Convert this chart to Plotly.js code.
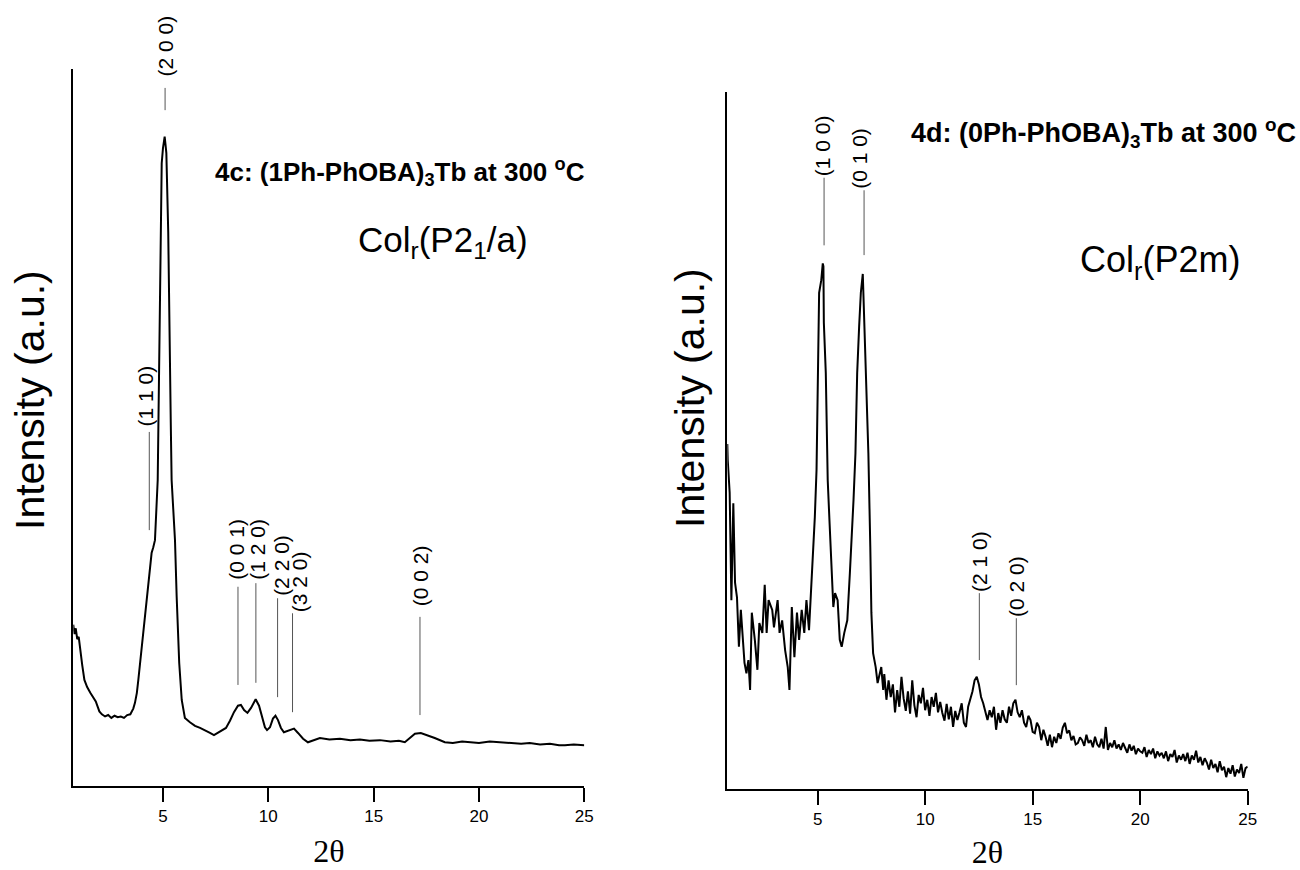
<!DOCTYPE html>
<html>
<head>
<meta charset="utf-8">
<script src="https://cdn.plot.ly/plotly-3.0.1.min.js"></script>
<style>html,body{margin:0;padding:0;background:#fff;}</style>
</head>
<body>
<div id="chart" style="width:1300px;height:870px;"></div>
<script>
// ---------- DATA ----------
// 4c: (1Ph-PhOBA)3Tb at 300 °C
const twoTheta4c = [0.74,0.80,0.86,0.93,1.00,1.08,1.17,1.27,1.40,1.55,1.70,1.81,1.98,2.10,2.25,2.40,2.55,2.70,2.85,3.00,
  3.15,3.30,3.45,3.59,3.67,3.76,3.83,3.91,3.99,4.15,4.38,4.46,4.54,4.62,4.75,4.82,4.86,4.89,4.94,5.00,
  5.08,5.12,5.16,5.25,5.29,5.33,5.37,5.41,5.49,5.57,5.65,5.77,5.89,6.04,6.28,6.52,6.76,6.99,7.23,7.42,
  7.61,7.80,7.99,8.18,8.37,8.56,8.70,8.85,9.01,9.18,9.40,9.56,9.70,9.84,9.94,10.08,10.22,10.34,10.46,10.60,
  10.74,10.98,11.22,11.41,11.65,11.88,12.07,12.45,12.9,13.4,13.9,14.35,14.8,15.3,15.8,16.2,16.48,16.72,16.96,17.24,
  17.57,17.90,18.38,18.76,19.2,19.56,20.0,20.51,21.0,21.46,22.0,22.41,22.9,23.37,23.8,24.08,24.5,25.0];
const intensity4c = [225,212,220,205,208,185,168,148,138,130,124,118,104,100,97,99,95,98,96,97,
  95,99,100,108,116,130,148,170,194,241,297,325,333,343,427,566,650,724,869,890,
  906,895,883,772,650,566,506,427,380,343,264,172,120,95,89,84,81,78,74,71,
  74,77,81,91,103,112,113,106,102,109,121,112,95,82,78,82,94,98,92,81,
  75,77,80,74,66,61,63,67,65,66,64,65,63,64,62,63,61,67,73,74,
  71,67,61,60,62,61,60,62,61,60,59,60,58,59,57,57,58,57];

// 4d: (0Ph-PhOBA)3Tb at 300 °C
const twoTheta4d = [0.80,0.82,0.91,0.99,1.08,1.16,1.25,1.34,1.43,1.51,1.60,1.69,1.78,1.86,1.94,2.08,2.20,2.29,2.43,2.54,
  2.63,2.72,2.89,2.97,3.06,3.14,3.23,3.35,3.49,3.61,3.69,3.80,3.92,4.04,4.14,4.26,4.38,4.48,4.60,4.69,
  4.78,4.87,4.95,5.00,5.07,5.17,5.24,5.27,5.29,5.38,5.47,5.55,5.64,5.73,5.81,5.93,6.03,6.12,6.24,6.38,
  6.50,6.59,6.67,6.76,6.84,6.93,7.01,7.10,7.19,7.27,7.36,7.45,7.50,7.58,7.70,7.79,7.96,8.05,
  8.1,8.2,8.3,8.4,8.5,8.6,8.7,8.8,8.9,9.0,
  9.1,9.2,9.3,9.4,9.5,9.6,9.7,9.8,9.9,10.0,
  10.1,10.2,10.3,10.4,10.5,10.6,10.7,10.8,10.9,11.0,
  11.1,11.2,11.3,11.4,11.5,11.6,11.7,11.8,11.9,12.0,
  12.1,12.2,12.3,12.4,12.5,12.6,12.7,12.8,12.9,13.0,
  13.1,13.2,13.3,13.4,13.5,13.6,13.7,13.8,13.9,14.0,
  14.1,14.2,14.3,14.4,14.5,14.6,14.7,14.8,14.9,15.0,
  15.1,15.2,15.3,15.4,15.5,15.6,15.7,15.8,15.9,16.0,
  16.1,16.2,16.3,16.4,16.5,16.6,16.7,16.8,16.9,17.0,
  17.1,17.2,17.3,17.4,17.5,17.6,17.7,17.8,17.9,18.0,
  18.1,18.2,18.3,18.4,18.5,18.6,18.7,18.8,18.9,19.0,
  19.1,19.2,19.3,19.4,19.5,19.6,19.7,19.8,19.9,20.0,
  20.1,20.2,20.3,20.4,20.5,20.6,20.7,20.8,20.9,21.0,
  21.1,21.2,21.3,21.4,21.5,21.6,21.7,21.8,21.9,22.0,
  22.1,22.2,22.3,22.4,22.5,22.6,22.7,22.8,22.9,23.0,
  23.1,23.2,23.3,23.4,23.5,23.6,23.7,23.8,23.9,24.0,
  24.1,24.2,24.3,24.4,24.5,24.6,24.7,24.8,24.9,25.0];
const intensity4d = [495,472,425,271,410,296,275,204,257,218,181,166,185,142,253,214,171,238,224,293,
  224,271,257,232,257,271,224,242,199,175,142,261,189,253,214,257,224,271,228,281,
  324,390,458,572,712,730,754,750,669,597,443,386,314,261,281,271,214,204,224,242,
  310,357,415,482,597,663,712,739,659,587,482,347,253,195,175,152,175,142,
  165,128,156,132,150,110,142,118,161,130,
  112,140,108,156,120,103,135,123,145,113,
  128,105,132,118,138,110,125,109,98,122,
  100,118,89,112,99,110,123,95,89,118,
  128,140,156,161,150,132,123,110,99,113,
  103,118,85,109,95,113,100,95,118,105,
  123,128,110,103,113,95,89,105,99,82,
  80,95,89,70,85,75,62,78,60,75,
  66,80,72,88,95,80,84,70,76,64,
  66,74,70,62,78,66,70,60,75,64,
  60,72,58,89,56,66,60,70,58,64,
  56,66,60,52,64,55,62,50,58,54,
  52,60,46,56,50,58,44,54,48,52,
  44,54,40,50,46,56,38,48,42,50,
  40,52,36,48,42,55,38,46,34,44,
  38,28,42,30,36,24,40,27,32,17,
  30,22,34,18,28,23,36,16,30,32];

const tickValues = [5, 10, 15, 20, 25];

// Miller-index peak markers (2θ position, marker line low/high intensity, label base intensity)
const hkl4c      = ["(2 0 0)", "(1 1 0)", "(0 0 1)", "(1 2 0)", "(2 2 0)", "(3 2 0)", "(0 0 2)"];
const hklPos4c   = [5.10, 4.35, 8.56, 9.41, 10.44, 11.15, 17.2];
const hklLow4c   = [943, 357, 141, 144, 124, 103, 99];
const hklHigh4c  = [974, 494, 278, 283, 262, 241, 236];
const hklText4c  = [988, 500, 287, 287, 264, 241, 250];

const hkl4d      = ["(1 0 0)", "(0 1 0)", "(2 1 0)", "(0 2 0)"];
const hklPos4d   = [5.30, 7.16, 12.52, 14.24];
const hklLow4d   = [780, 766, 185, 149];
const hklHigh4d  = [877, 859, 281, 245];
const hklText4d  = [877, 859, 281, 245];

const yTitle = "Intensity (a.u.)";
const xTitle = "2θ";
const sample4c = "<b>4c: (1Ph-PhOBA)<sub>3</sub>Tb at 300 <sup>o</sup>C</b>";
const phase4c = "Col<sub>r</sub>(P2<sub>1</sub>/a)";
const sample4d = "<b>4d: (0Ph-PhOBA)<sub>3</sub>Tb at 300 <sup>o</sup>C</b>";
const phase4d = "Col<sub>r</sub>(P2m)";

// ---------- LAYOUT ----------
const W = 1300, H = 870;
const fx = p => p / W;
const fy = p => 1 - p / H;
const SANS = "Liberation Sans, Arial, sans-serif";
const SERIF = "Liberation Serif, Times New Roman, serif";
const labelShift4c = [0, -4, -1, 2, 4, 7, 0];
const labelShift4d = [-2, -4, 0, 0];

function xAxis(dom, lo, anchor) {
  return {
    domain: dom, range: [lo, 25], anchor: anchor,
    showline: true, linecolor: "#000", linewidth: 2,
    ticks: "outside", ticklen: 14, tickwidth: 2, tickcolor: "#000",
    tickvals: tickValues, tickfont: {family: SANS, size: 17, color: "#000"},
    showgrid: false, zeroline: false,
    title: {text: xTitle, font: {family: SERIF, size: 32, color: "#000"}, standoff: 14}
  };
}
function yAxis(dom, anchor) {
  return {
    domain: dom, range: [0, 1000], anchor: anchor,
    showline: true, linecolor: "#000", linewidth: 2,
    ticks: "", showticklabels: false, showgrid: false, zeroline: false
  };
}

const traces = [
  {x: twoTheta4c, y: intensity4c, xaxis: "x", yaxis: "y", type: "scatter", mode: "lines",
   line: {color: "#000", width: 2}, showlegend: false, hoverinfo: "x+y"},
  {x: twoTheta4d, y: intensity4d, xaxis: "x2", yaxis: "y2", type: "scatter", mode: "lines",
   line: {color: "#000", width: 2}, showlegend: false, hoverinfo: "x+y"}
];

const shapes = [];
const annotations = [];
function addMarkers(labels, pos, lo, hi, tb, shift, xr, yr) {
  labels.forEach((lab, i) => {
    shapes.push({type: "line", xref: xr, yref: yr, x0: pos[i], x1: pos[i], y0: lo[i], y1: hi[i],
      line: {color: "#555", width: 1}});
    annotations.push({xref: xr, yref: yr, x: pos[i], y: tb[i], text: lab, showarrow: false,
      textangle: -90, xanchor: "center", yanchor: "bottom", xshift: shift[i],
      font: {family: SANS, size: 21, color: "#000"}, borderpad: 0});
  });
}
addMarkers(hkl4c, hklPos4c, hklLow4c, hklHigh4c, hklText4c, labelShift4c, "x", "y");
addMarkers(hkl4d, hklPos4d, hklLow4d, hklHigh4d, hklText4d, labelShift4d, "x2", "y2");

function paperText(px, py, text, size, xanchor, angle) {
  return {xref: "paper", yref: "paper", x: fx(px), y: fy(py), text: text, showarrow: false,
    xanchor: xanchor, yanchor: "middle", textangle: angle || 0,
    font: {family: SANS, size: size, color: "#000"}};
}
annotations.push(
  paperText(400, 172, sample4c, 26, "center"),
  paperText(443, 242, phase4c, 35, "center"),
  paperText(1298, 133, sample4d, 27, "right"),
  paperText(1160, 262, phase4d, 36, "center"),
  paperText(30, 400, yTitle, 41, "center", -90),
  paperText(690, 398, yTitle, 41, "center", -90)
);

const layout = {
  width: W, height: H,
  margin: {l: 0, r: 0, t: 0, b: 0, autoexpand: false},
  paper_bgcolor: "#fff", plot_bgcolor: "#fff",
  showlegend: false,
  xaxis: xAxis([fx(73.3), fx(584.3)], 0.743, "y"),
  yaxis: yAxis([fy(786), fy(69.3)], "x"),
  xaxis2: xAxis([fx(727.3), fx(1247.7)], 0.8, "y2"),
  yaxis2: yAxis([fy(789), fy(92)], "x2"),
  shapes: shapes,
  annotations: annotations
};

Plotly.newPlot("chart", traces, layout, {displayModeBar: false, staticPlot: true});
</script>
</body>
</html>
